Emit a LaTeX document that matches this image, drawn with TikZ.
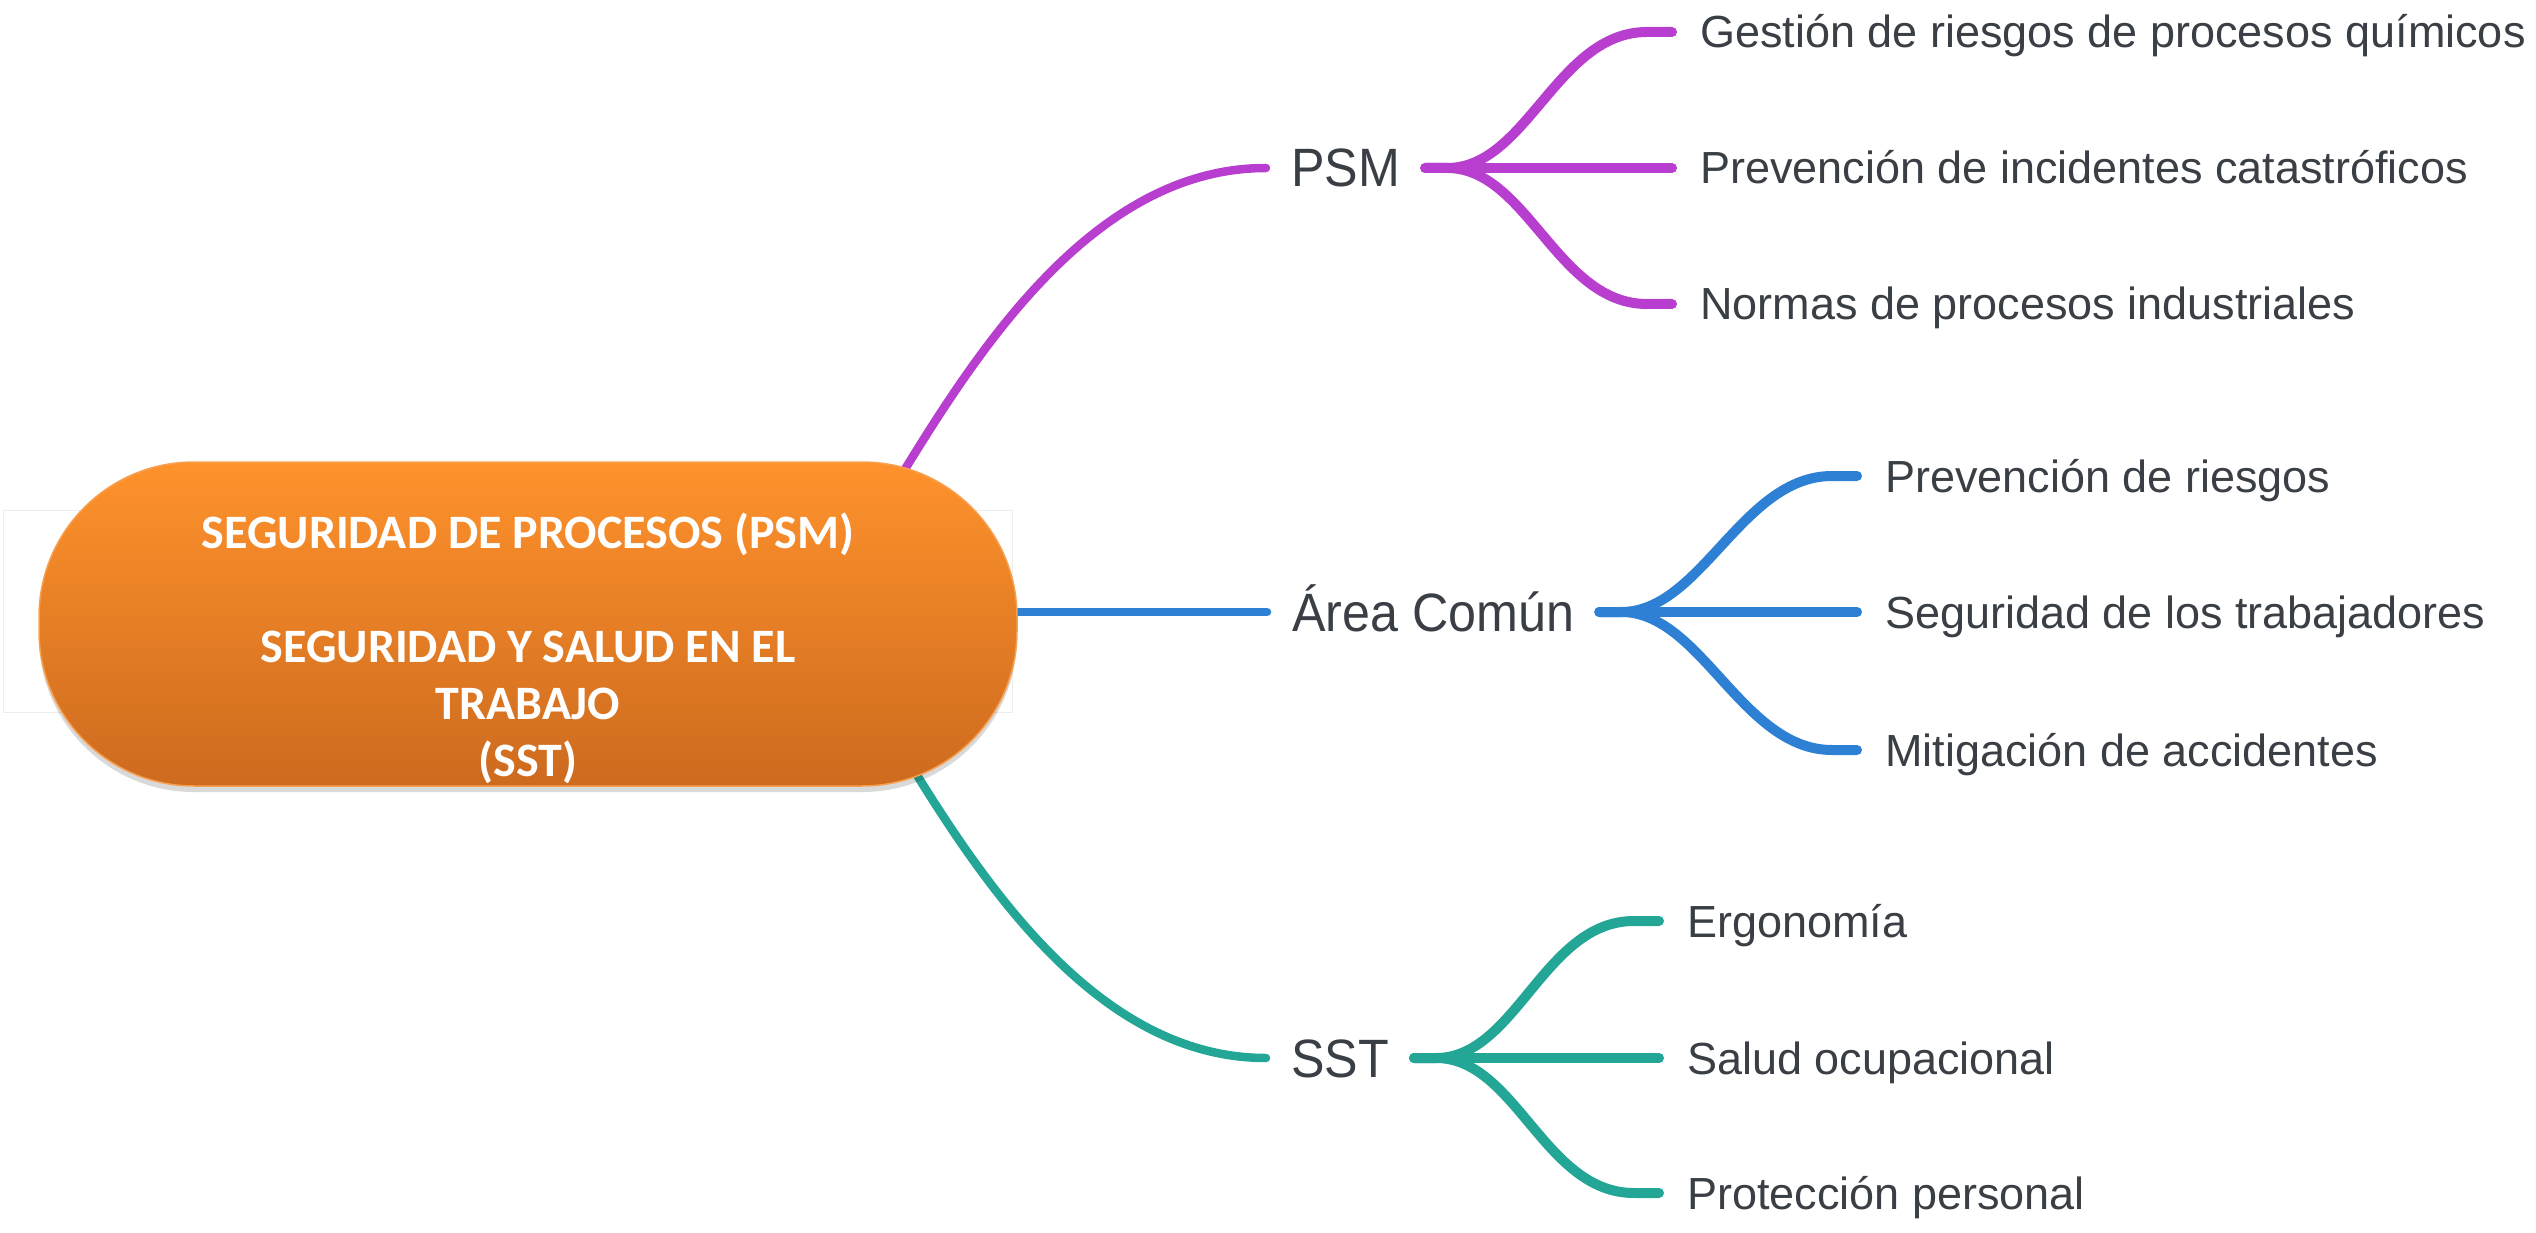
\documentclass[tikz,border=0pt]{standalone}
\usepackage{fontspec}
\setmainfont{Liberation Sans}
\newfontfamily\rootfont{Carlito}
\newfontfamily\lvlfont[FakeStretch=0.93]{Liberation Sans}
\usetikzlibrary{calc,shadows,backgrounds}
\definecolor{cPurple}{RGB}{184,62,208}
\definecolor{cBlue}{RGB}{45,128,212}
\definecolor{cTeal}{RGB}{36,166,150}
\definecolor{txt}{RGB}{58,63,70}
\definecolor{orTop}{RGB}{254,146,44}
\definecolor{orBot}{RGB}{205,106,30}
\definecolor{orEdge}{RGB}{247,160,80}
\begin{document}
\begin{tikzpicture}[x=1pt,y=-1pt,
  rootbox/.style={rectangle, rounded corners=155pt, minimum width=978pt,
    minimum height=320pt, inner sep=0pt, top color=orTop, bottom color=orBot,
    draw=orEdge, line width=1.5pt, text=white,
    font=\rootfont\bfseries\fontsize{48}{57}\selectfont, align=center,
    drop shadow={shadow xshift=0pt, shadow yshift=-6pt, opacity=0.15, fill=black}},
  lvl/.style={anchor=west, inner xsep=25pt, inner ysep=0pt, text height=38pt,
    text depth=0pt, text=txt, font=\lvlfont\fontsize{54}{60}\selectfont},
  leaf/.style={anchor=west, inner xsep=28pt, inner ysep=0pt, text height=32pt,
    text depth=0pt, text=txt, font=\fontsize{45}{52}\selectfont},
  mainp/.style={line width=8.5pt, line cap=round, draw=#1},
  forkp/.style={line width=10pt, line cap=round, draw=#1},
]
\useasboundingbox (0,0) rectangle (2536,1233);

% central node
\node[rootbox] (root) at (528,624)
  {\rule{0pt}{86pt}SEGURIDAD DE PROCESOS (PSM)\\[57pt]SEGURIDAD Y SALUD EN EL\\TRABAJO\\(SST)\rule[-10pt]{0pt}{10pt}};

% level 1
\node[lvl] (psm)  at (1266,168)  {PSM};
\node[lvl] (area) at (1267,612)  {Área Común};
\node[lvl] (sst)  at (1266,1058) {SST};

% leaves
\node[leaf] (p1) at (1672,32)   {Gestión de riesgos de procesos químicos};
\node[leaf] (p2) at (1672,168)  {Prevención de incidentes catastróficos};
\node[leaf] (p3) at (1672,304)  {Normas de procesos industriales};
\node[leaf] (a1) at (1857,476)  {Prevención de riesgos};
\node[leaf] (a2) at (1857,612)  {Seguridad de los trabajadores};
\node[leaf] (a3) at (1857,750)  {Mitigación de accidentes};
\node[leaf] (s1) at (1659,921)  {Ergonomía};
\node[leaf] (s2) at (1659,1058) {Salud ocupacional};
\node[leaf] (s3) at (1659,1193) {Protección personal};

\begin{scope}[on background layer]
  \draw[draw=black!7, line width=1pt] (3,510) rectangle (1012,712);
  % main connectors
  \draw[mainp=cPurple] ($(root.center)+(352,-114)$) .. controls +(80,-130) and +(-186,0) .. (psm.west);
  \draw[mainp=cBlue] ($(area.west -| root.east)+(-30,0)$) -- (area.west);
  \draw[mainp=cTeal] ($(root.center)+(352,91)$) .. controls +(80,130) and +(-186,0) .. (sst.west);
  % PSM fork
  \draw[forkp=cPurple] (psm.east) -- (p2.west);
  \draw[forkp=cPurple] (psm.east) -- ++(22,0) .. controls +(80,0) and ($(p1.west)+(-115,0)$) .. ($(p1.west)+(-25,0)$) -- (p1.west);
  \draw[forkp=cPurple] (psm.east) -- ++(22,0) .. controls +(80,0) and ($(p3.west)+(-115,0)$) .. ($(p3.west)+(-25,0)$) -- (p3.west);
  % Area fork
  \draw[forkp=cBlue] (area.east) -- (a2.west);
  \draw[forkp=cBlue] (area.east) -- ++(22,0) .. controls +(80,0) and ($(a1.west)+(-115,0)$) .. ($(a1.west)+(-25,0)$) -- (a1.west);
  \draw[forkp=cBlue] (area.east) -- ++(22,0) .. controls +(80,0) and ($(a3.west)+(-115,0)$) .. ($(a3.west)+(-25,0)$) -- (a3.west);
  % SST fork
  \draw[forkp=cTeal] (sst.east) -- (s2.west);
  \draw[forkp=cTeal] (sst.east) -- ++(22,0) .. controls +(80,0) and ($(s1.west)+(-115,0)$) .. ($(s1.west)+(-25,0)$) -- (s1.west);
  \draw[forkp=cTeal] (sst.east) -- ++(22,0) .. controls +(80,0) and ($(s3.west)+(-115,0)$) .. ($(s3.west)+(-25,0)$) -- (s3.west);
\end{scope}
\end{tikzpicture}
\end{document}
